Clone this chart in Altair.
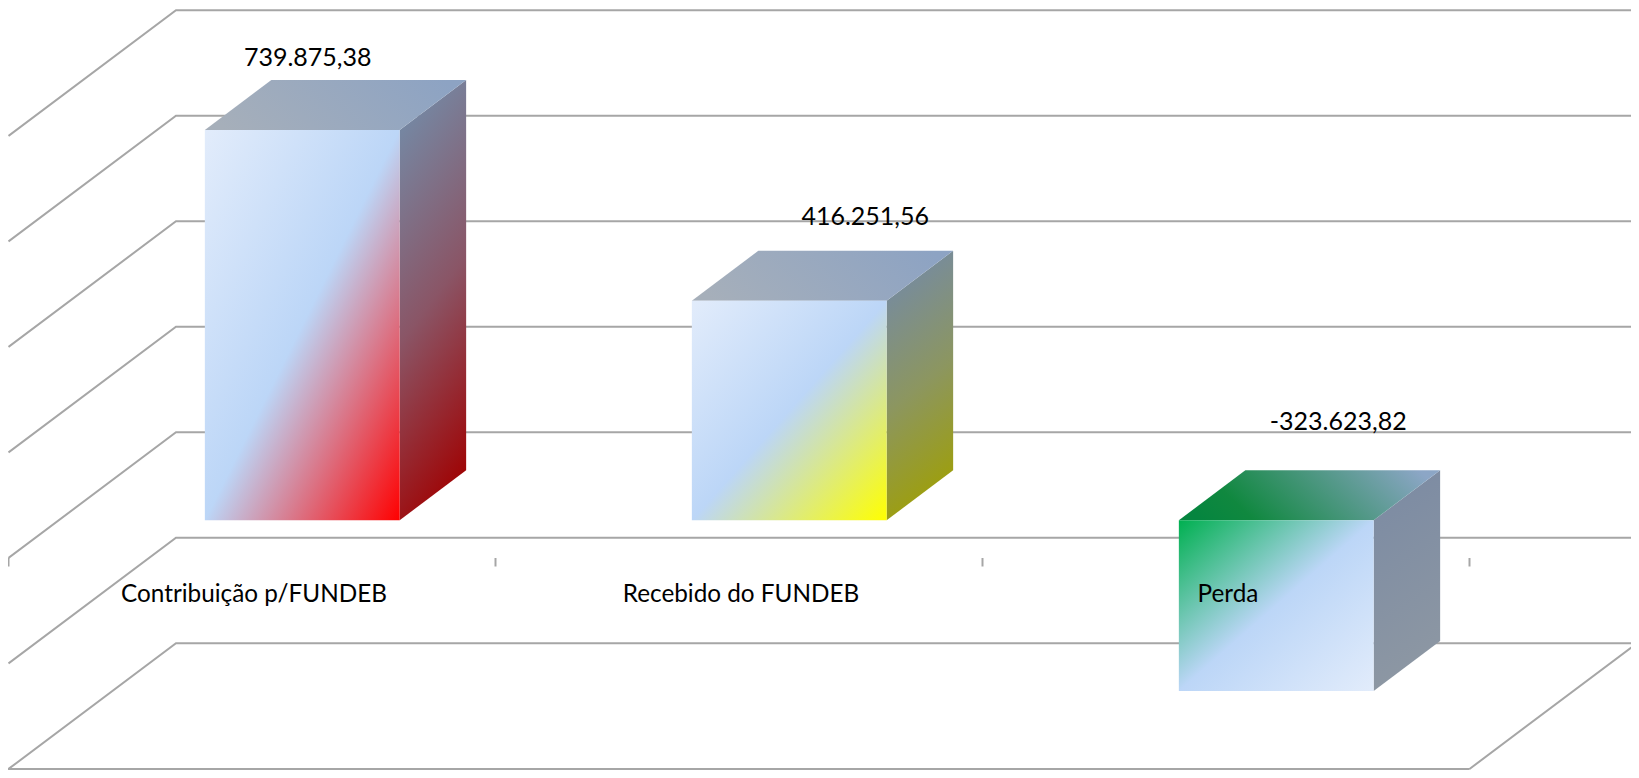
import altair as alt
import pandas as pd

# --- chart values ---
categories = ["Contribuição p/FUNDEB", "Recebido do FUNDEB", "Perda"]
values = [739875.38, 416251.56, -323623.82]
value_labels = ["739.875,38", "416.251,56", "-323.623,82"]
grid_values = [800000, 600000, 400000, 200000, 0, -200000]
floor_value = -400000
tick_positions = [0, 1, 2, 3]

# --- projection of the 3-D box (depth 0 = front of floor, 1 = back wall) ---
W, H = 1623, 762
PX_PER_CAT = 487.0
PX_PER_VALUE = 105.5 / 200000
DEPTH_CAT = 167.5 / PX_PER_CAT
DEPTH_VALUE = 125.8 / PX_PER_VALUE
BAR_FRONT, BAR_BACK = 0.30, 0.697
BAR_HALF = 0.2
ZERO_Y = 550.0   # plot-pixel row of value 0 at depth 0
LEFT_X = 0.5

x_scale = alt.Scale(domain=[-LEFT_X / PX_PER_CAT, (W - LEFT_X) / PX_PER_CAT], range=[0, W], nice=False, zero=False)
y_scale = alt.Scale(domain=[(ZERO_Y - H) / PX_PER_VALUE, ZERO_Y / PX_PER_VALUE], range=[H, 0], nice=False, zero=False)
X = alt.X("x:Q", scale=x_scale, axis=None)
Y = alt.Y("y:Q", scale=y_scale, axis=None)


def px(cat, depth=0.0):
    return cat + depth * DEPTH_CAT


def py(val, depth=0.0):
    return val + depth * DEPTH_VALUE


def grad(stops, x1=0, y1=0, x2=1, y2=1):
    return alt.Gradient(
        gradient="linear", x1=x1, y1=y1, x2=x2, y2=y2,
        stops=[alt.GradientStop(offset=o, color=c) for o, c in stops],
    )


front_styles = [
    [(0, "#e2ecfb"), (0.5, "#bcd6f7"), (1, "#ff0000")],
    [(0, "#e2ecfb"), (0.5, "#bcd6f7"), (1, "#ffff00")],
    [(0, "#00b050"), (0.5, "#bcd6f7"), (1, "#e2ecfb")],
]
side_styles = [
    [(0, "#748aa6"), (0.5, "#8a5566"), (1, "#a00000")],
    [(0, "#748aa6"), (0.5, "#8c9660"), (1, "#a0a000")],
    [(0, "#7c8ba3"), (1, "#8e98a3")],
]
top_styles = [
    [(0, "#a6afba"), (1, "#8da3c3")],
    [(0, "#a6afba"), (1, "#8da3c3")],
    [(0, "#05853f"), (0.2, "#10883f"), (1, "#8ca6c6")],
]
label_offsets = [(5.5, -72), (76, -84), (62, -98)]
FONT = "Lato"
VALUE_SIZE = 25
CATEGORY_SIZE = 24.3

layers = []

# gridlines running up the left wall and along the back wall
grid_rows = []
for v in grid_values:
    grid_rows += [
        {"g": v, "o": 0, "x": px(0, 0), "y": py(v, 0)},
        {"g": v, "o": 1, "x": px(0, 1), "y": py(v, 1)},
        {"g": v, "o": 2, "x": px(3, 1), "y": py(v, 1)},
    ]
# floor outline
v = floor_value
grid_rows += [
    {"g": v, "o": i, "x": a, "y": b}
    for i, (a, b) in enumerate([
        (px(3, 0), py(v, 0)), (px(0, 0), py(v, 0)), (px(0, 1), py(v, 1)),
        (px(3, 1), py(v, 1)), (px(3, 0), py(v, 0)),
    ])
]
layers.append(
    alt.Chart(pd.DataFrame(grid_rows))
    .mark_line(color="#a6a6a6", strokeWidth=2, clip=True)
    .encode(x=X, y=Y, detail="g:N", order="o:Q")
)

# category-axis tick marks
tick_len = 8.5 / PX_PER_VALUE
tick_df = pd.DataFrame({"x": tick_positions, "y": [0.0] * 4, "y2": [-tick_len] * 4})
layers.append(
    alt.Chart(tick_df).mark_rule(color="#a6a6a6", strokeWidth=2)
    .encode(x=X, y=Y, y2="y2:Q")
)

# bars
for i, val in enumerate(values):
    c = i + 0.5
    hi, lo = max(val, 0), min(val, 0)
    xl, xr = c - BAR_HALF, c + BAR_HALF
    d0, d1 = BAR_FRONT, BAR_BACK
    side = pd.DataFrame([
        {"x": px(xr, d0), "y": py(hi, d0), "y2": py(lo, d0)},
        {"x": px(xr, d1), "y": py(hi, d1), "y2": py(lo, d1)},
    ])
    layers.append(
        alt.Chart(side).mark_area(color=grad(side_styles[i], 0.4, 0, 0.6, 1))
        .encode(x=X, y=Y, y2="y2:Q")
    )
    top = pd.DataFrame([
        {"y": py(hi, d0), "x": px(xl, d0), "x2": px(xr, d0)},
        {"y": py(hi, d1), "x": px(xl, d1), "x2": px(xr, d1)},
    ])
    layers.append(
        alt.Chart(top).mark_area(orient="horizontal", color=grad(top_styles[i], 0, 0.6, 1, 0.4))
        .encode(y=Y, x=X, x2="x2:Q")
    )
    front = pd.DataFrame([{"x": px(xl, d0), "x2": px(xr, d0), "y": py(hi, d0), "y2": py(lo, d0)}])
    layers.append(
        alt.Chart(front).mark_rect(color=grad(front_styles[i]))
        .encode(x=X, x2="x2:Q", y=Y, y2="y2:Q")
    )

# value labels and category labels
for i, (val, lab) in enumerate(zip(values, value_labels)):
    c = i + 0.5
    dx, dy = label_offsets[i]
    layers.append(
        alt.Chart(pd.DataFrame([{"x": px(c, BAR_FRONT), "y": py(max(val, 0), BAR_FRONT), "t": lab}]))
        .mark_text(font=FONT, fontSize=VALUE_SIZE, color="#000000", dx=dx, dy=dy, baseline="middle", align="center")
        .encode(x=X, y=Y, text="t:N")
    )
    layers.append(
        alt.Chart(pd.DataFrame([{"x": c, "y": 0.0, "t": categories[i]}]))
        .mark_text(font=FONT, fontSize=CATEGORY_SIZE, color="#000000", dx=2, dy=36.5, baseline="middle", align="center")
        .encode(x=X, y=Y, text="t:N")
    )

chart = (
    alt.layer(*layers)
    .properties(width=W, height=H, padding=0, autosize=alt.AutoSizeParams(type="none"), background="white")
    .configure_view(stroke=None)
)

chart.save("out.html", embed_options={"renderer": "svg", "actions": False})
